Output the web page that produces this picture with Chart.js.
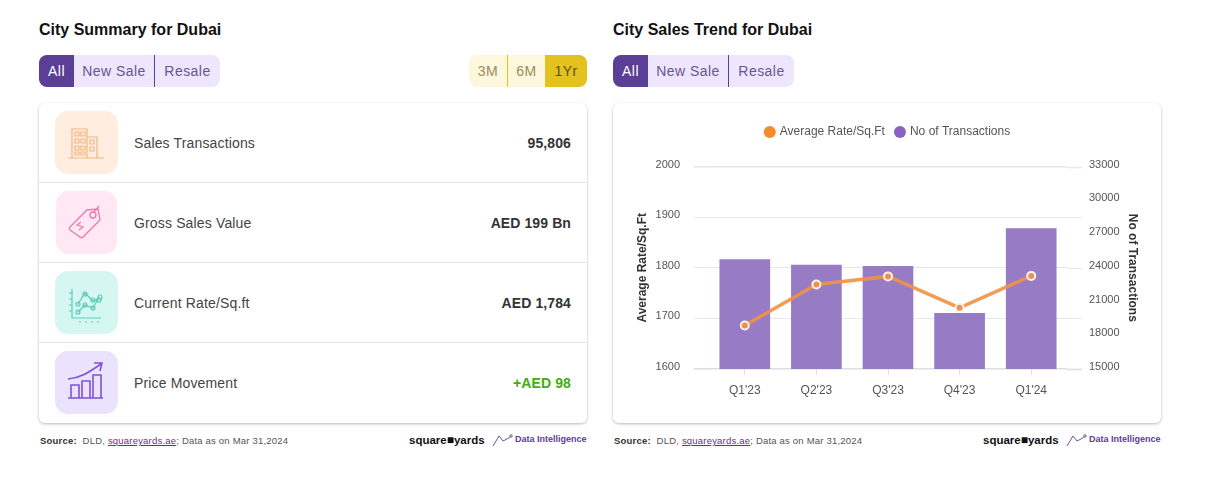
<!DOCTYPE html>
<html><head><meta charset="utf-8">
<script src="https://cdn.jsdelivr.net/npm/chart.js@4"></script>
<style>
html,body{margin:0;padding:0;background:#fff;width:1215px;height:479px;overflow:hidden;font-family:"Liberation Sans",Arial,sans-serif}
.a{position:absolute}
.title{top:20px;font-size:16px;font-weight:bold;color:#111;line-height:19px;white-space:nowrap}
.seg{top:55px;height:32px;display:flex;border-radius:8px;overflow:hidden;font-size:14px;letter-spacing:.45px;line-height:32px;text-align:center}
.seg div{box-sizing:border-box}
.tab{background:#EEE6FD;color:#6A5590}
.tab.on{background:#5B3E96;color:#fff}
.per{background:#FDF7DE;color:#9B8C5A}
.per.on{background:#E3C21F;color:#5C4E12}
.card{top:103px;height:320px;width:548px;background:#fff;border-radius:6px;box-shadow:0 1px 3px rgba(0,0,0,.28);}
.row{left:0;width:548px;height:80px;border-bottom:1px solid #e4e4e4;box-sizing:border-box}
.row:last-child{border-bottom:0}
.ico{position:absolute;left:16px;top:8px;width:63px;height:63px;border-radius:13px}
.ico svg{position:absolute;left:0;top:0}
.lab{position:absolute;left:95px;top:31px;font-size:14px;letter-spacing:.15px;color:#444;line-height:18px;white-space:nowrap}
.val{position:absolute;right:16px;top:31px;font-size:14px;font-weight:bold;letter-spacing:.1px;color:#333;line-height:18px;white-space:nowrap}
.src{top:435px;font-size:9.5px;letter-spacing:.2px;color:#555;line-height:11px;white-space:nowrap}
.src b{color:#333;margin-right:3px}
.src u{color:#6b2d8f}
.sy{top:433px;font-size:11.5px;font-weight:bold;color:#111;line-height:14px;white-space:nowrap}
.di{top:433px;font-size:9px;color:#5B3E96;font-weight:bold;line-height:12px;white-space:nowrap}
canvas{position:absolute;left:0;top:0}
</style></head><body>
<div class="a title" style="left:39px">City Summary for Dubai</div>
<div class="a seg" style="left:39px;width:181px">
 <div class="tab on" style="width:35px">All</div>
 <div class="tab" style="width:81px;border-right:1px solid #5B3E96">New Sale</div>
 <div class="tab" style="width:65px">Resale</div>
</div>
<div class="a seg" style="left:469px;width:118px">
 <div class="per" style="width:39px;border-right:1px solid #E3C21F">3M</div>
 <div class="per" style="width:37px">6M</div>
 <div class="per on" style="width:42px">1Yr</div>
</div>
<div class="a card" style="left:39px">
 <div class="a row" style="top:0">
  <div class="ico" style="background:#FFEEDF"><svg width="63" height="63" fill="none" stroke="#F2B680" stroke-width="1.2"><path d="M13 47h36M17 47V18h15v29M32 26h10v21"/><path d="M20 21h4v4h-4zM26 21h4v4h-4zM20 28h4v4h-4zM26 28h4v4h-4zM20 35h4v4h-4zM26 35h4v4h-4zM20 41h4v3h-4zM26 41h4v3h-4zM35 29h4v4h-4zM35 36h4v4h-4z"/></svg></div>
  <div class="lab">Sales Transactions</div><div class="val">95,806</div>
 </div>
 <div class="a row" style="top:80px">
  <div class="ico" style="background:#FFE7F3;left:17px;width:61px"><svg width="61" height="63" fill="none" stroke="#E87BB0" stroke-width="1.3"><path d="M14 36l17-17 11-1 2 11-17 17a2 2 0 0 1-3 0L14 39a2 2 0 0 1 0-3z"/><circle cx="37" cy="24" r="3"/><path d="M38 21l5-6M25 31l-4 3 3 1 3 1-4 3"/></svg></div>
  <div class="lab">Gross Sales Value</div><div class="val">AED 199 Bn</div>
 </div>
 <div class="a row" style="top:160px">
  <div class="ico" style="background:#D6F7F1"><svg width="63" height="63" fill="none" stroke="#57CDB6" stroke-width="1.2"><path d="M17 18v29h29M14 22h3M14 28h3M14 34h3M14 40h3M24 51h2M30 51h2M36 51h2M42 51h2"/><path d="M23 33l7-11 8 8 7-3M23 41l7-7 8 3 5-9"/><circle cx="23" cy="33" r="2"/><circle cx="30" cy="23" r="2"/><circle cx="38" cy="29" r="2"/><circle cx="45" cy="26" r="2"/><circle cx="23" cy="41" r="2"/><circle cx="30" cy="34" r="2"/><circle cx="38" cy="37" r="2"/><circle cx="44" cy="29" r="2"/></svg></div>
  <div class="lab">Current Rate/Sq.ft</div><div class="val">AED 1,784</div>
 </div>
 <div class="a row" style="top:240px">
  <div class="ico" style="background:#EBE3FD"><svg width="63" height="63" fill="none" stroke="#8052D6" stroke-width="1.6"><path d="M13 47h35M16 47V34h8v13M27 47V30h8v17M38 47V24h8v23M13 28c12-1 20-6 33-15M39 12l8 0-2 8"/></svg></div>
  <div class="lab">Price Movement</div><div class="val" style="color:#3FAE0E">+AED 98</div>
 </div>
</div>
<div class="a src" style="left:40px"><b>Source:</b> DLD, <u>squareyards.ae</u>; Data as on Mar 31,2024</div>
<div class="a sy" style="left:409px">square<span style="font-size:12px">&#9632;</span>yards</div>
<svg class="a" style="left:491px;top:432px" width="22" height="15" fill="none" stroke="#6B5A8E"><path d="M2 14L8 4l4 5 4-2 3-2"/><circle cx="20" cy="4" r="1.2"/></svg>
<div class="a di" style="left:515px">Data Intelligence</div>

<div class="a title" style="left:613px">City Sales Trend for Dubai</div>
<div class="a seg" style="left:613px;width:181px">
 <div class="tab on" style="width:35px">All</div>
 <div class="tab" style="width:81px;border-right:1px solid #5B3E96">New Sale</div>
 <div class="tab" style="width:65px">Resale</div>
</div>
<div class="a card" style="left:613px"><canvas id="c" width="548" height="320" style="width:548px;height:320px"></canvas></div>
<div class="a src" style="left:614px"><b>Source:</b> DLD, <u>squareyards.ae</u>; Data as on Mar 31,2024</div>
<div class="a sy" style="left:983px">square<span style="font-size:12px">&#9632;</span>yards</div>
<svg class="a" style="left:1065px;top:432px" width="22" height="15" fill="none" stroke="#6B5A8E"><path d="M2 14L8 4l4 5 4-2 3-2"/><circle cx="20" cy="4" r="1.2"/></svg>
<div class="a di" style="left:1089px">Data Intelligence</div>
<script>
const categories = ["Q1'23","Q2'23","Q3'23","Q4'23","Q1'24"];
const averageRate = [1686,1767,1783,1721,1784];
const transactions = [24734,24250,24120,19950,27486];
const rateTicks = [1600,1700,1800,1900,2000];
const transactionTicks = [15000,18000,21000,24000,27000,30000,33000];
const FONT = '"Liberation Sans", Arial, sans-serif';
const GRID = '#E8E8EC';
const EDGE = v => v===1600 ? '#DEDEE2' : GRID;
const EDGEW = v => (v===1600||v===2000) ? 1.6 : 1;
const extendGrid = {
  id:'extendGrid',
  beforeLayout(chart){
    const l = chart.legend;
    if(l && !l._patched){
      const f = l.fit;
      l.fit = function(){ f.call(this); this.height += 18.5; };
      l._patched = true;
    }
  },
  beforeDatasetsDraw(chart){
    const {ctx,chartArea,scales} = chart;
    ctx.save();
    rateTicks.forEach(v=>{
      const y = Math.round(scales.y.getPixelForValue(v))+.5;
      ctx.strokeStyle = EDGE(v); ctx.lineWidth = EDGEW(v);
      ctx.beginPath(); ctx.moveTo(chartArea.right,y); ctx.lineTo(chartArea.right+15,y); ctx.stroke();
    });
    ctx.restore();
  }
};
new Chart(document.getElementById('c'),{
  data:{labels:categories,datasets:[
    {type:'line',label:'Average Rate/Sq.Ft',data:averageRate,yAxisID:'y',order:1,
     borderColor:'rgba(240,146,70,.9)',borderWidth:3.5,tension:0,
     backgroundColor:'#F68B2B',pointBackgroundColor:'#EE9150',pointBorderColor:'#FBF3EA',pointBorderWidth:2,pointRadius:4,pointHoverRadius:4},
    {type:'bar',label:'No of Transactions',data:transactions,yAxisID:'y2',order:2,
     backgroundColor:'#977CC5',borderWidth:0,barThickness:50}
  ]},
  options:{
    responsive:false,animation:false,
    layout:{padding:{top:12,left:2,right:0,bottom:17.5}},
    plugins:{
      tooltip:{enabled:false},
      legend:{position:'top',labels:{usePointStyle:true,pointStyle:'circle',boxWidth:8,boxHeight:8.5,padding:11,color:'#555',font:{family:FONT,size:12},
        generateLabels(chart){
          const cols=['#F68B2B','#8764C0'];
          return chart.data.datasets.map((d,i)=>({text:d.label,fillStyle:cols[i],strokeStyle:cols[i],lineWidth:0,pointStyle:'circle',datasetIndex:i,fontColor:'#555'}));
        }}}
    },
    scales:{
      x:{grid:{drawOnChartArea:false,color:'#E2E2E2',tickLength:6,offset:false},border:{display:false},
         ticks:{color:'#555',font:{family:FONT,size:12},padding:8,maxRotation:0}},
      y:{position:'left',min:1600,max:2000,
         afterFit(s){s.width=94},
         afterBuildTicks(s){s.ticks=rateTicks.map(value=>({value}))},
         grid:{color:c=>EDGE(c.tick.value),lineWidth:c=>EDGEW(c.tick.value),tickLength:15},border:{display:false},
         ticks:{color:'#555',font:{family:FONT,size:11},padding:14,labelOffset:-2,callback:v=>String(v)},
         title:{display:true,text:'Average Rate/Sq.Ft',color:'#333',font:{family:FONT,size:12,weight:'bold'},padding:{top:20,bottom:0}}},
      y2:{position:'right',min:15000,max:33000,
         afterFit(s){s.width=94},
         afterBuildTicks(s){s.ticks=transactionTicks.map(value=>({value}))},
         grid:{drawOnChartArea:false,drawTicks:false},border:{display:false},
         ticks:{color:'#555',font:{family:FONT,size:11},padding:22,labelOffset:-2,callback:v=>String(v)},
         title:{display:true,text:'No of Transactions',color:'#333',font:{family:FONT,size:12,weight:'bold'},padding:{top:21,bottom:0}}}
    }
  },
  plugins:[extendGrid]
});
</script>
</body></html>
